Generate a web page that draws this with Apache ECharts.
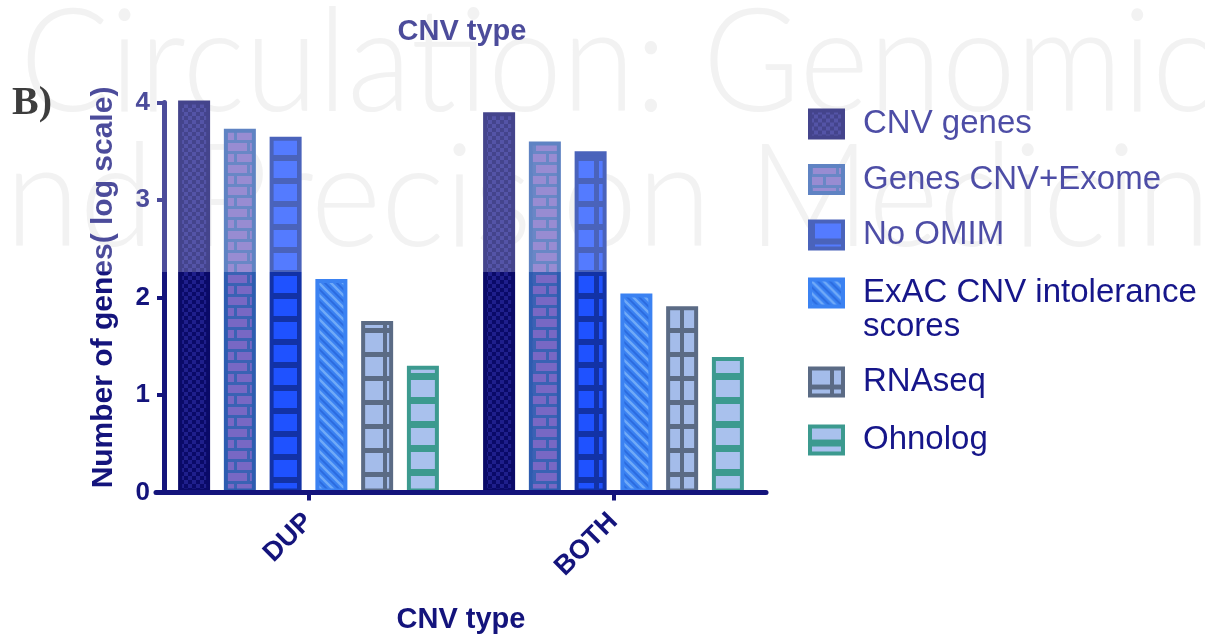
<!DOCTYPE html>
<html>
<head>
<meta charset="utf-8">
<script src="https://cdn.jsdelivr.net/npm/echarts@6/dist/echarts.min.js"></script>
<style>
  html, body { margin: 0; padding: 0; background: #ffffff; }
  #chart { width: 1205px; height: 638px; }
</style>
</head>
<body>
<div id="chart"></div>
<script>
// Gene counts per CNV type, log10 scale
const categories = ['DUP', 'BOTH'];
const seriesNames = ['CNV genes', 'Genes CNV+Exome', 'No OMIM', 'ExAC CNV intolerance scores', 'RNAseq', 'Ohnolog'];
const cnvGenes = [4.03, 3.90];
const genesCnvExome = [3.73, 3.60];
const noOmim = [3.65, 3.50];
const exacScores = [2.19, 2.04];
const rnaSeq = [1.76, 1.91];
const ohnolog = [1.30, 1.39];
const yTicks = [0, 1, 2, 3, 4];

const NAVY = '#14147c';
const SANS = '"Liberation Sans", Arial, sans-serif';

// Small repeating canvas tiles used as bar fills
function tile(w, h, draw) {
  const c = document.createElement('canvas');
  c.width = w; c.height = h;
  draw(c.getContext('2d'), w, h);
  return { image: c, repeat: 'repeat' };
}

const checker = tile(8, 8, (g) => {
  g.fillStyle = '#0a0a68'; g.fillRect(0, 0, 8, 8);
  g.fillStyle = '#1f1f8c'; g.fillRect(0, 0, 4, 4); g.fillRect(4, 4, 4, 4);
});

const brick = tile(26, 22, (g) => {
  g.fillStyle = '#3a62b4'; g.fillRect(0, 0, 26, 22);
  g.fillStyle = '#7868c4';
  g.fillRect(3, 0, 23, 8);
  g.fillRect(0, 11, 13, 8); g.fillRect(16, 11, 10, 8);
});

const blueGrid = tile(33, 23, (g) => {
  g.fillStyle = '#1f52ff'; g.fillRect(0, 0, 33, 23);
  g.fillStyle = '#1232a6';
  g.fillRect(0, 17, 33, 6); g.fillRect(0, 0, 5, 23);
});

const stripes = tile(12, 12, (g) => {
  g.fillStyle = '#3b82f2'; g.fillRect(0, 0, 12, 12);
  g.lineCap = 'square';
  g.strokeStyle = '#70aaf8'; g.lineWidth = 2.4;
  for (let k = -1; k <= 1; k++) {
    g.beginPath(); g.moveTo(k * 12, 0); g.lineTo(k * 12 + 12, 12); g.stroke();
  }
  g.strokeStyle = '#2b6ade'; g.lineWidth = 1.6;
  for (let k = -1; k <= 1; k++) {
    g.beginPath(); g.moveTo(k * 12 + 6, 0); g.lineTo(k * 12 + 18, 12); g.stroke();
  }
});

const grayGrid = tile(33, 24, (g) => {
  g.fillStyle = '#a4bcea'; g.fillRect(0, 0, 33, 24);
  g.fillStyle = '#5b6b85';
  g.fillRect(0, 16, 33, 5); g.fillRect(20, 0, 4, 24);
});

const tealBands = tile(8, 24, (g) => {
  g.fillStyle = '#a9c1ed'; g.fillRect(0, 0, 8, 24);
  g.fillStyle = '#3c9a8f'; g.fillRect(0, 13, 8, 7);
});

const values = [cnvGenes, genesCnvExome, noOmim, exacScores, rnaSeq, ohnolog];
const fills = [checker, brick, blueGrid, stripes, grayGrid, tealBands];
const borders = ['#0a0a68', '#2d5cb0', '#1232a6', '#3b82f2', '#5b6b85', '#3c9a8f'];
const legendTops = [107, 162.5, 218, 242, 365, 423];
// legend label for the two-line entry: a blank first line keeps the icon level with the first text line
const legendLabels = ['{name}', '{name}', '{name}', '\nExAC CNV intolerance\nscores', '{name}', '{name}'];

const chart = echarts.init(document.getElementById('chart'), null, { renderer: 'canvas' });

chart.setOption({
  animation: false,
  backgroundColor: '#ffffff',
  title: {
    text: 'CNV type',
    left: 462, top: 17, padding: 0,
    textAlign: 'center',
    textStyle: { fontFamily: SANS, fontWeight: 'bold', fontSize: 29, color: NAVY }
  },
  grid: { left: 156, right: 439, top: 102.5, bottom: 145.5, containLabel: false, outerBoundsMode: 'none' },
  xAxis: {
    type: 'category',
    data: categories,
    z: 5,
    axisLine: { show: true, lineStyle: { color: NAVY, width: 5 } },
    axisTick: { show: true, alignWithLabel: true, length: 8, lineStyle: { color: NAVY, width: 4 } },
    axisLabel: {
      rotate: 45, margin: 25, color: NAVY,
      fontFamily: SANS, fontWeight: 'bold', fontSize: 27
    },
    name: 'CNV type',
    nameLocation: 'middle',
    nameGap: 113,
    nameTextStyle: { fontFamily: SANS, fontWeight: 'bold', fontSize: 29, color: NAVY }
  },
  yAxis: {
    type: 'value',
    min: yTicks[0], max: yTicks[yTicks.length - 1], interval: 1,
    offset: -8,
    z: 5,
    axisLine: { show: true, lineStyle: { color: NAVY, width: 5 } },
    axisTick: { show: true, length: 7, lineStyle: { color: NAVY, width: 4 } },
    splitLine: { show: false },
    axisLabel: { margin: 14, color: NAVY, fontFamily: SANS, fontWeight: 'bold', fontSize: 26 },
    name: 'Number of genes( log scale)',
    nameLocation: 'middle',
    nameGap: 45,
    nameTextStyle: { fontFamily: SANS, fontWeight: 'bold', fontSize: 30, color: NAVY, padding: [0, 0, 0, 20] }
  },
  legend: seriesNames.map((name, i) => ({
    data: [name],
    left: 808, top: legendTops[i],
    orient: 'vertical',
    icon: 'rect',
    itemWidth: 33, itemHeight: 27,
    padding: 0,
    selectedMode: false,
    itemStyle: { borderWidth: 4 },
    formatter: legendLabels[i],
    textStyle: {
      fontFamily: SANS, fontSize: 33, color: '#16168a', lineHeight: 34,
      padding: [0, 0, 0, 15]
    }
  })),
  series: seriesNames.map((name, i) => ({
    type: 'bar',
    name: name,
    data: values[i],
    barWidth: 32,
    barGap: '43%',
    itemStyle: { color: fills[i], borderColor: borders[i], borderWidth: 4 },
    emphasis: { disabled: true }
  })),
  graphic: [
    {
      type: 'text', x: 20, y: 64, scaleX: 0.915, z: 0, silent: true,
      style: { text: 'Circulation: Genomic', font: '300 145px Lato, "Open Sans", sans-serif', fill: '#eeeeee', verticalAlign: 'middle' }
    },
    {
      type: 'text', x: -60, y: 199, scaleX: 0.93, z: 0, silent: true,
      style: { text: 'and Precision Medicine', font: '300 145px Lato, "Open Sans", sans-serif', fill: '#eeeeee', verticalAlign: 'middle' }
    },
    {
      type: 'text', x: 12, y: 104, z: 6, silent: true,
      style: { text: 'B)', font: 'bold 40px "Liberation Serif", serif', fill: '#000000', verticalAlign: 'middle' }
    },
    {
      type: 'rect', z: 100, silent: true,
      shape: { x: 0, y: 0, width: 1205, height: 272 },
      style: { fill: 'rgba(255,255,255,0.24)' }
    }
  ]
});
</script>
</body>
</html>
